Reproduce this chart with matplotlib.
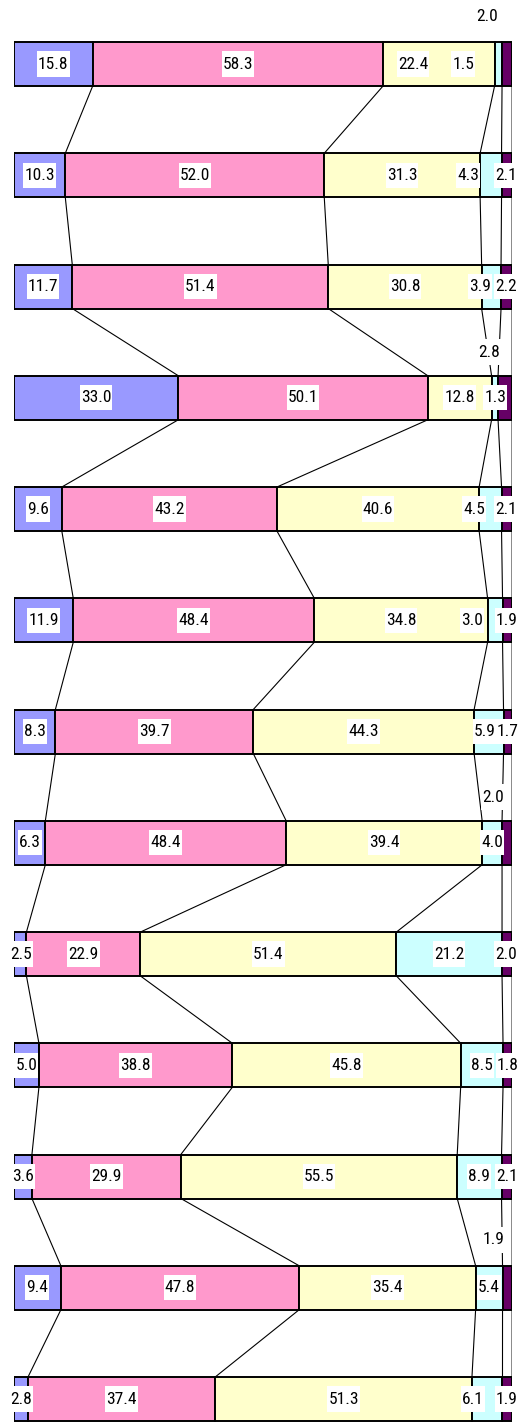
import numpy as np
import matplotlib
matplotlib.use("Agg")
import matplotlib.pyplot as plt
from matplotlib.path import Path

# shares per row (%), top to bottom
blue   = [15.8, 10.3, 11.7, 33.0, 9.6, 11.9, 8.3, 6.3, 2.5, 5.0, 3.6, 9.4, 2.8]
pink   = [58.3, 52.0, 51.4, 50.1, 43.2, 48.4, 39.7, 48.4, 22.9, 38.8, 29.9, 47.8, 37.4]
yellow = [22.4, 31.3, 30.8, 12.8, 40.6, 34.8, 44.3, 39.4, 51.4, 45.8, 55.5, 35.4, 51.3]
cyan   = [1.5, 4.3, 3.9, 1.3, 4.5, 3.0, 5.9, 4.0, 21.2, 8.5, 8.9, 5.4, 6.1]
purple = [2.0, 2.1, 2.2, 2.8, 2.1, 1.9, 1.7, 2.0, 2.0, 1.8, 2.1, 1.9, 1.9]

colors = ['#9999FF', '#FF99CC', '#FFFFCC', '#CCFFFF', '#660066']

# manual label placement for narrow segments: (row, seg) -> (x in %, y shift in rows)
label_pos = {
    (0, 2): (80.1, 0), (0, 3): (90.2, 0), (0, 4): (95.0, -0.43),
    (1, 3): (91.2, 0), (1, 4): (98.8, 0),
    (2, 3): (93.6, 0), (2, 4): (98.8, 0),
    (3, 3): (96.6, 0), (3, 4): (95.4, -0.41),
    (4, 3): (92.4, 0), (4, 4): (98.8, 0),
    (5, 3): (92.0, 0), (5, 4): (99.0, 0),
    (6, 3): (94.6, 0), (6, 4): (99.2, 0),
    (7, 4): (96.2, -0.41),
    (8, 0): (1.4, 0), (8, 4): (98.8, 0),
    (11, 4): (96.2, -0.43),
    (12, 0): (1.4, 0), (12, 3): (92.2, 0), (12, 4): (99.0, 0),
}


def tallbox(x0, y0, w, h, mutation_size):
    # white label box, narrow sideways and tall
    px, py = 0.06 * mutation_size, 0.3 * mutation_size
    x0, y0, x1, y1 = x0 - px, y0 - py, x0 + w + px, y0 + h + py
    return Path([(x0, y0), (x1, y0), (x1, y1), (x0, y1), (x0, y0)], closed=True)


plt.rcParams['font.family'] = ['Roboto Condensed', 'DejaVu Sans']
plt.rcParams['font.stretch'] = 'condensed'

data = np.array([blue, pink, yellow, cyan, purple]).T
n = data.shape[0]
pct = data / data.sum(axis=1, keepdims=True) * 100
left = np.hstack([np.zeros((n, 1)), np.cumsum(pct, axis=1)])
y = np.arange(n)
h = 0.3955

fig = plt.figure(figsize=(5.31, 14.22), dpi=100)
ax = fig.add_axes([14 / 531, 0, 498 / 531, (1422 - 8.4) / 1422])

# series lines between consecutive bars
for i in range(n - 1):
    for k in range(1, 6):
        c = '#808080' if k == 5 else 'black'
        lw = 1.3 if k == 5 else 0.8
        ax.plot([left[i, k], left[i + 1, k]], [y[i] + h / 2, y[i + 1] - h / 2],
                color=c, lw=lw, zorder=1)

for s in range(5):
    ax.barh(y, pct[:, s], left=left[:, s], height=h, color=colors[s],
            edgecolor='black', linewidth=1.4, zorder=2)

for i in range(n):
    for s in range(5):
        x = left[i, s] + pct[i, s] / 2
        dy = 0
        if (i, s) in label_pos:
            x, dy = label_pos[(i, s)]
        ax.text(x, y[i] + dy, f"{data[i, s]:.1f}", ha='center', va='center',
                fontsize=12.5, color='black', zorder=4, clip_on=False,
                bbox=dict(boxstyle=tallbox, fc='white', ec='none'))

ax.set_xlim(0, 100)
ax.set_ylim(12 + 23 / 111.25, -0.5)
ax.axis('off')

fig.savefig('out.png', dpi=100)
